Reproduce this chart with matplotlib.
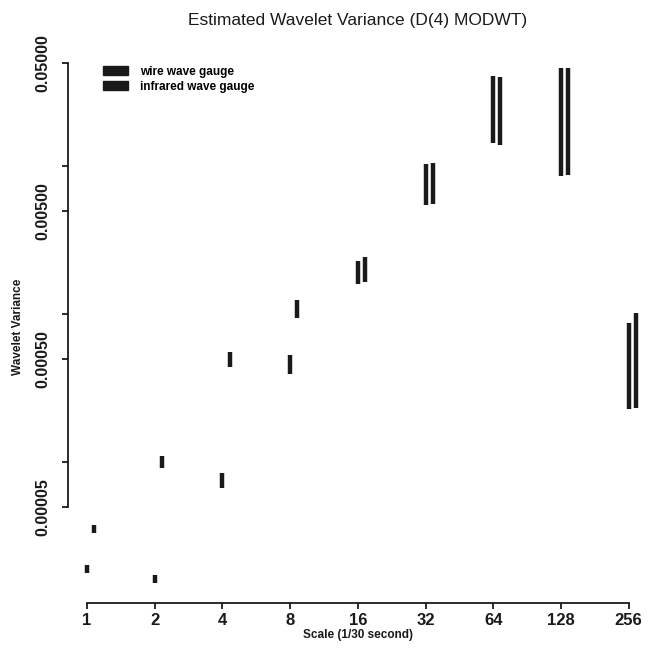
import matplotlib
matplotlib.use("Agg")
import matplotlib.pyplot as plt
from matplotlib.patches import Patch
from matplotlib.ticker import NullLocator

plt.rcParams['font.family'] = ['Liberation Sans', 'DejaVu Sans']

# scale (units of 1/30 second)
scales = [1, 2, 4, 8, 16, 32, 64, 128, 256]
scale_labels = ["1", "2", "4", "8", "16", "32", "64", "128", "256"]

# confidence intervals of the wavelet variance
wire_lo = [1.79e-5, 1.53e-5, 6.72e-5, 3.95e-4, 1.60e-3, 5.47e-3, 1.435e-2, 8.59e-3, 2.29e-4]
wire_hi = [2.03e-5, 1.74e-5, 8.48e-5, 5.31e-4, 2.29e-3, 1.035e-2, 4.07e-2, 4.60e-2, 8.74e-4]
infra_lo = [3.34e-5, 9.17e-5, 4.41e-4, 9.45e-4, 1.65e-3, 5.56e-3, 1.39e-2, 8.73e-3, 2.33e-4]
infra_hi = [3.78e-5, 1.105e-4, 5.57e-4, 1.25e-3, 2.44e-3, 1.051e-2, 4.00e-2, 4.60e-2, 1.02e-3]

ytick_vals = [5e-5, 1e-4, 5e-4, 1e-3, 5e-3, 1e-2, 5e-2]
ytick_labels = ["0.00005", "", "0.00050", "", "0.00500", "", "0.05000"]

ink = "#1a1a1a"
W, H = 649, 653

fig = plt.figure(figsize=(W / 100, H / 100), dpi=100)
ax = fig.add_axes([68 / W, 1 - 603 / H, (648 - 68) / W, (603 - 50) / H])

ax.set_xscale("log", base=2)
ax.set_yscale("log")

# small horizontal shift so the two gauges sit side by side
wire_x = [s * 2 ** 0.0 for s in scales]
infra_x = [s * 2 ** 0.105 for s in scales]
ax.vlines(wire_x, wire_lo, wire_hi, colors=ink, linewidth=3.2)
ax.vlines(infra_x, infra_lo, infra_hi, colors=ink, linewidth=3.2)

ax.set_xlim(2 ** (-19 / 67.7), 2 ** (561 / 67.7))
ax.set_ylim(10 ** (-1.30103 - (603 - 62.7) / 148.1), 10 ** (-1.30103 + (62.7 - 50) / 148.1))

ax.set_xticks(scales)
ax.set_xticklabels(scale_labels, fontsize=12, fontweight="bold")
ax.set_yticks(ytick_vals)
ax.set_yticklabels(ytick_labels, fontsize=11.5, fontweight="bold", rotation=90, va="center")
ax.xaxis.set_minor_locator(NullLocator())
ax.yaxis.set_minor_locator(NullLocator())
ax.tick_params(axis="both", direction="out", length=4, width=1.3, color=ink, labelcolor=ink)
ax.tick_params(axis="x", pad=3)
ax.tick_params(axis="y", pad=9)

for side in ["top", "right"]:
    ax.spines[side].set_visible(False)
for side in ["left", "bottom"]:
    ax.spines[side].set_linewidth(1.3)
    ax.spines[side].set_color(ink)
ax.spines["left"].set_bounds(5e-5, 5e-2)
ax.spines["bottom"].set_bounds(1, 256)

ax.set_xlabel("Scale (1/30 second)", fontsize=8.5, fontweight="bold", color=ink, labelpad=1)
ax.set_ylabel("Wavelet Variance", fontsize=8.5, fontweight="bold", color=ink, labelpad=8)

fig.text(358 / W, 1 - 20 / H, "Estimated Wavelet Variance (D(4) MODWT)",
         ha="center", va="center", fontsize=12.5, color=ink)

handles = [Patch(facecolor=ink, edgecolor=ink), Patch(facecolor=ink, edgecolor=ink)]
ax.legend(handles, ["wire wave gauge", "infrared wave gauge"],
          loc="upper left", bbox_to_anchor=(103 / W, 1 - 66 / H),
          bbox_transform=fig.transFigure, frameon=False,
          prop={"weight": "bold", "size": 8.5},
          borderpad=0, borderaxespad=0, handlelength=2.1, handleheight=0.8,
          handletextpad=1.0, labelspacing=0.25)

fig.savefig("out.png", dpi=100)
